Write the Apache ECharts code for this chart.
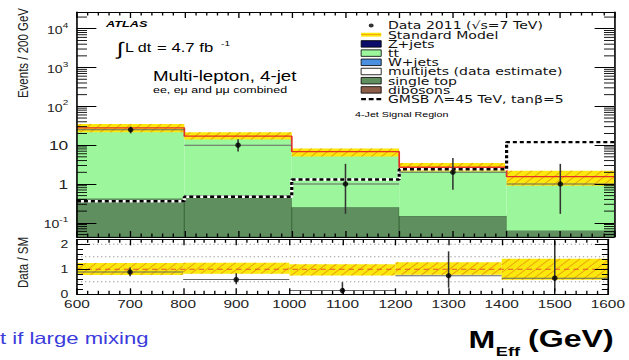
<!DOCTYPE html>
<html>
<head>
<meta charset="utf-8">
<script src="https://cdn.jsdelivr.net/npm/echarts@6/dist/echarts.min.js"></script>
<style>
  html, body { margin: 0; padding: 0; width: 629px; height: 360px; overflow: hidden; background: #fff; }
  /* the plot is laid out on a 470px-wide canvas and widened to the full 629px */
  #chart { width: 470px; height: 360px; transform: scaleX(1.33830); transform-origin: 0 0; }
</style>
</head>
<body>
<div id="chart"></div>
<script>
// ---- binning (M_Eff, GeV) ----
const binEdges   = [600, 800, 1000, 1200, 1400, 1600];
const binCenters = [700, 900, 1100, 1300, 1500];

// ---- observed events, 4-jet signal region ----
const dataCounts = [25, 10, 1, 2, 1];
const dataLow    = [20.1, 6.9, 0.17, 0.71, 0.17];   // lower end of error bar
const dataHigh   = [30.1, 14.3, 3.3, 4.64, 3.3];    // upper end of error bar

// ---- SM background stack ----
const singleTop = [0.42, 0.52, 0.25, 0.15, 0.063];
const ttbar     = [27.6, 16.5, 6.55, 2.55, 1.49];
const zJets = [], wJets = [], multijets = [], dibosons = [];
const smTotal = [28, 17, 6.8, 2.7, 1.55];
const smUp    = [35, 21.5, 8.2, 3.45, 2.2];
const smDown  = [21.6, 14, 5.1, 2.1, 0.9];

// ---- signal benchmark ----
const gmsb = [0.36, 0.47, 1.3, 2.4, 12];

// ---- axis ranges ----
const yMin = 0.043, yMax = 27000;
const ratioMin = 0, ratioMax = 2.2;
const ratioGrid = [0.5, 1.5, 2];

const FONT = '"Liberation Sans", Arial, Helvetica, sans-serif';
const LEGEND_FONT = '"DejaVu Sans", "Liberation Sans", sans-serif';
const C = {
  ttbar: '#9cf79c', stop: '#5f8f5f', stopEdge: '#3f6b3f', band: '#fbe80c', hatch: '#e8900a',
  sm: '#e5302a', zjets: '#0b0b6b', wjets: '#4b8fe0', diboson: '#8c5d48'
};

// ---- helpers building series data from the arrays ----
const stackBase = singleTop.map(() => yMin);
const stackMid  = singleTop.slice();
const stackTop  = singleTop.map((v, i) => v + ttbar[i]);
function binRects(lo, hi) {
  return lo.map((v, i) => [binEdges[i], binEdges[i + 1], v, hi[i]]);
}
function stepPoints(vals) {
  return binEdges.map((e, i) => [e, vals[Math.min(i, vals.length - 1)]]);
}
const ratio     = dataCounts.map((v, i) => v / smTotal[i]);
const ratioLow  = dataLow.map((v, i) => v / smTotal[i]);
const ratioHigh = dataHigh.map((v, i) => v / smTotal[i]);
const ratioUp   = smUp.map((v, i) => v / smTotal[i]);
const ratioDown = smDown.map((v, i) => v / smTotal[i]);

// minor log ticks 2..9 x 10^k inside the axis range
const minorLog = [];
for (let k = -2; k <= 4; k++) for (let m = 2; m <= 9; m++) {
  const v = m * Math.pow(10, k);
  if (v > yMin && v < yMax) minorLog.push([binEdges[0], v]);
}

// ---- render helpers ----
function rectItem(fill, stroke) {
  return function (params, api) {
    const a = api.coord([api.value(0), api.value(3)]);
    const b = api.coord([api.value(1), api.value(2)]);
    return {
      type: 'rect',
      shape: { x: a[0], y: a[1], width: b[0] - a[0], height: b[1] - a[1] },
      style: { fill: fill, stroke: stroke || null, lineWidth: stroke ? 0.8 : 0 }
    };
  };
}
function hatchedBand(params, api) {
  const a = api.coord([api.value(0), api.value(3)]);
  const b = api.coord([api.value(1), api.value(2)]);
  const x0 = a[0], x1 = b[0], yT = a[1], yB = b[1], H = yB - yT;
  const children = [{ type: 'rect', shape: { x: x0, y: yT, width: x1 - x0, height: H }, style: { fill: C.band } }];
  const step = 7.5;
  for (let c = Math.floor((x0 - H) / step) * step; c < x1; c += step) {
    const t0 = Math.max(0, (x0 - c) / H), t1 = Math.min(1, (x1 - c) / H);
    if (t1 <= t0) continue;
    children.push({
      type: 'line',
      shape: { x1: c + t0 * H, y1: yB - t0 * H, x2: c + t1 * H, y2: yB - t1 * H },
      style: { stroke: C.hatch, lineWidth: 0.8, opacity: 0.85 }
    });
  }
  return { type: 'group', children: children };
}
function errorBars(params, api) {
  const l = api.coord([api.value(1), api.value(3)]);
  const r = api.coord([api.value(2), api.value(3)]);
  const lo = api.coord([api.value(0), api.value(4)]);
  const hi = api.coord([api.value(0), api.value(5)]);
  return {
    type: 'group', children: [
      { type: 'line', shape: { x1: l[0], y1: l[1], x2: r[0], y2: r[1] }, style: { stroke: '#666', lineWidth: 1 } },
      { type: 'line', shape: { x1: lo[0], y1: lo[1], x2: hi[0], y2: hi[1] }, style: { stroke: '#333', lineWidth: 1.15 } }
    ]
  };
}
function logMinorTicks(params, api) {
  const l = api.coord([binEdges[0], api.value(1)]);
  const r = api.coord([binEdges[binEdges.length - 1], api.value(1)]);
  return {
    type: 'group', children: [
      { type: 'line', shape: { x1: l[0], y1: l[1], x2: l[0] + 7.5, y2: l[1] }, style: { stroke: '#000', lineWidth: 0.9 } },
      { type: 'line', shape: { x1: r[0], y1: r[1], x2: r[0] - 7.5, y2: r[1] }, style: { stroke: '#000', lineWidth: 0.9 } }
    ]
  };
}
function refLine(params, api) {
  const l = api.coord([binEdges[0], api.value(0)]);
  const r = api.coord([binEdges[binEdges.length - 1], api.value(0)]);
  const unity = api.value(1) === 1;
  return {
    type: 'line',
    shape: { x1: l[0], y1: l[1], x2: r[0], y2: r[1] },
    style: unity ? { stroke: '#e4572a', lineWidth: 1, lineDash: [4, 3] }
                 : { stroke: '#9a9a9a', lineWidth: 1, lineDash: [1, 2] }
  };
}

// ---- axes ----
function xAx(grid, pos, labels) {
  return {
    type: 'value', gridIndex: grid, position: pos, min: binEdges[0], max: binEdges[binEdges.length - 1], interval: 100,
    z: 10, splitLine: { show: false },
    axisLine: { show: true, onZero: false, lineStyle: { color: '#000', width: 1.2 } },
    axisTick: { show: true, inside: true, length: 6, lineStyle: { color: '#000', width: 1 } },
    minorTick: { show: true, splitNumber: 5, length: 3.5, lineStyle: { color: '#000', width: 1 } },
    axisLabel: labels ? { show: true, fontSize: 11.5, fontFamily: FONT, color: '#222', margin: 4,
                          formatter: v => String(v) } : { show: false }
  };
}
function logLabel(v) {
  const e = Math.log10(v), r = Math.round(e);
  if (Math.abs(e - r) > 1e-6) return '';
  if (r === 0) return '{p|1}';
  if (r === 1) return '{p|10}';
  return '{b|10}{s|' + r + '}';
}
function yLog(pos, labels) {
  return {
    type: 'log', logBase: 10, gridIndex: 0, position: pos, min: yMin, max: yMax, z: 10,
    splitLine: { show: false },
    axisLine: { show: true, onZero: false, lineStyle: { color: '#000', width: 1.2 } },
    axisTick: { show: true, inside: true, length: 14.5, lineStyle: { color: '#000', width: 1 } },
    axisLabel: labels ? {
      show: true, formatter: logLabel, margin: 6.5, fontFamily: FONT, color: '#222',
      rich: {
        p: { fontSize: 13, fontFamily: FONT, color: '#222' },
        b: { fontSize: 10.5, fontFamily: FONT, color: '#222', padding: [4, 0, 0, 0] },
        s: { fontSize: 7.5, fontFamily: FONT, color: '#222', verticalAlign: 'top', lineHeight: 8 }
      }
    } : { show: false }
  };
}
function yRatio(pos, labels) {
  return {
    type: 'value', gridIndex: 1, position: pos, min: ratioMin, max: ratioMax, interval: 1, z: 10,
    splitLine: { show: false },
    axisLine: { show: true, onZero: false, lineStyle: { color: '#000', width: 1.2 } },
    axisTick: { show: true, inside: true, length: 9.7, lineStyle: { color: '#000', width: 1 } },
    minorTick: { show: true, splitNumber: 5, length: 4.5, lineStyle: { color: '#000', width: 1 } },
    axisLabel: labels ? {
      show: true, margin: 6.5, fontSize: 10.5, fontFamily: FONT, color: '#222',
      formatter: v => (Math.abs(v - Math.round(v)) < 1e-9 ? String(Math.round(v)) : '')
    } : { show: false }
  };
}

const dotIcon  = 'path://M0,0M15,6.5M5.6,3.25a1.9,1.9 0 1,0 3.8,0a1.9,1.9 0 1,0 -3.8,0z';
const dashIcon = 'path://M0,0M15,6.5M0,2.2h3.6v2.1h-3.6zM5.7,2.2h3.6v2.1h-3.6zM11.4,2.2h3.6v2.1h-3.6z';
const bandIcon = 'path://M0,0M15,6.5M0,1.3h15v3.9h-15z';
const boxStyle = fill => ({ color: fill, borderColor: '#000', borderWidth: 0.7 });
const txt = (x, y, text, font, extra) => ({
  type: 'text', x: x, y: y, z: 30,
  style: Object.assign({ text: text, font: font + ' ' + FONT, fill: '#000',
                         verticalAlign: 'middle', textVerticalAlign: 'middle' }, extra || {})
});

const option = {
  animation: false,
  textStyle: { fontFamily: FONT },
  grid: [
    { left: 57.5, right: 11.2, top: 12, height: 225 },
    { left: 57.5, right: 11.2, top: 239.3, height: 55 }
  ],
  xAxis: [xAx(0, 'bottom', false), xAx(0, 'top', false), xAx(1, 'bottom', true), xAx(1, 'top', false)],
  yAxis: [yLog('left', true), yLog('right', false), yRatio('left', true), yRatio('right', false)],
  legend: {
    orient: 'vertical', left: 269.5, top: 20, padding: 0, itemGap: -1.8, itemWidth: 15, itemHeight: 6.5,
    selectedMode: false, z: 20,
    textStyle: { fontSize: 10.5, fontFamily: LEGEND_FONT, color: '#111' },
    data: [
      { name: 'Data 2011 (√s=7 TeV)', icon: dotIcon, itemStyle: { color: '#000', borderWidth: 0 } },
      { name: 'Standard Model', icon: bandIcon, itemStyle: { borderWidth: 0, color: {
          type: 'linear', x: 0, y: 0, x2: 0, y2: 1,
          colorStops: [{ offset: 0, color: C.band }, { offset: 0.4, color: C.band }, { offset: 0.5, color: '#e8660a' },
                       { offset: 0.6, color: C.band }, { offset: 1, color: C.band }] } } },
      { name: 'Z+jets', icon: 'rect', itemStyle: boxStyle(C.zjets) },
      { name: 'tt̄', icon: 'rect', itemStyle: boxStyle(C.ttbar) },
      { name: 'W+jets', icon: 'rect', itemStyle: boxStyle(C.wjets) },
      { name: 'multijets (data estimate)', icon: 'rect', itemStyle: boxStyle('#fff') },
      { name: 'single top', icon: 'rect', itemStyle: boxStyle(C.stop) },
      { name: 'dibosons', icon: 'rect', itemStyle: boxStyle(C.diboson) },
      { name: 'GMSB Λ=45 TeV, tanβ=5', icon: dashIcon, itemStyle: { color: '#000', borderWidth: 0 } }
    ]
  },
  series: [
    // ---------- main panel ----------
    { type: 'custom', name: 'dibosons', xAxisIndex: 0, yAxisIndex: 0, z: 2, data: dibosons, renderItem: rectItem(C.diboson) },
    { type: 'custom', name: 'single top', xAxisIndex: 0, yAxisIndex: 0, z: 2,
      encode: { x: [0, 1], y: [2, 3] }, data: binRects(stackBase, stackMid), renderItem: rectItem(C.stop, C.stopEdge) },
    { type: 'custom', name: 'tt̄', xAxisIndex: 0, yAxisIndex: 0, z: 2,
      encode: { x: [0, 1], y: [2, 3] }, data: binRects(stackMid, stackTop), renderItem: rectItem(C.ttbar) },
    { type: 'custom', name: 'Z+jets', xAxisIndex: 0, yAxisIndex: 0, z: 2, data: zJets, renderItem: rectItem(C.zjets) },
    { type: 'custom', name: 'W+jets', xAxisIndex: 0, yAxisIndex: 0, z: 2, data: wJets, renderItem: rectItem(C.wjets) },
    { type: 'custom', name: 'multijets (data estimate)', xAxisIndex: 0, yAxisIndex: 0, z: 2, data: multijets, renderItem: rectItem('#fff') },
    { type: 'custom', name: 'SM uncertainty', xAxisIndex: 0, yAxisIndex: 0, z: 3,
      encode: { x: [0, 1], y: [2, 3] }, data: binRects(smDown, smUp), renderItem: hatchedBand },
    { type: 'line', name: 'Standard Model', xAxisIndex: 0, yAxisIndex: 0, z: 4, step: 'end', symbol: 'none',
      lineStyle: { color: C.sm, width: 1.3 }, data: stepPoints(smTotal) },
    { type: 'line', name: 'GMSB backing', xAxisIndex: 0, yAxisIndex: 0, z: 5, step: 'end', symbol: 'none',
      lineStyle: { color: '#fff', width: 2.4 }, data: stepPoints(gmsb) },
    { type: 'line', name: 'GMSB Λ=45 TeV, tanβ=5', xAxisIndex: 0, yAxisIndex: 0, z: 6, step: 'end', symbol: 'none',
      lineStyle: { color: '#000', width: 2.4, type: [3, 2.2] }, data: stepPoints(gmsb) },
    { type: 'custom', name: 'data errors', xAxisIndex: 0, yAxisIndex: 0, z: 7,
      encode: { x: 0, y: 3 },
      data: binCenters.map((x, i) => [x, binEdges[i], binEdges[i + 1], dataCounts[i], dataLow[i], dataHigh[i]]),
      renderItem: errorBars },
    { type: 'scatter', name: 'Data 2011 (√s=7 TeV)', xAxisIndex: 0, yAxisIndex: 0, z: 8,
      symbol: 'circle', symbolSize: [4.2, 5.4], itemStyle: { color: '#000' },
      data: binCenters.map((x, i) => [x, dataCounts[i]]) },
    { type: 'custom', name: 'log minor ticks', xAxisIndex: 0, yAxisIndex: 0, z: 9, silent: true,
      encode: { x: 0, y: 1 }, data: minorLog, renderItem: logMinorTicks },

    // ---------- ratio panel ----------
    { type: 'custom', name: 'ratio band', xAxisIndex: 2, yAxisIndex: 2, z: 3,
      encode: { x: [0, 1], y: [2, 3] }, data: binRects(ratioDown, ratioUp), renderItem: hatchedBand },
    { type: 'custom', name: 'ratio reference', xAxisIndex: 2, yAxisIndex: 2, z: 4, silent: true,
      encode: { y: 0 }, data: ratioGrid.map(v => [v, 0]).concat([[1, 1]]), renderItem: refLine },
    { type: 'custom', name: 'ratio errors', xAxisIndex: 2, yAxisIndex: 2, z: 7,
      encode: { x: 0, y: 3 },
      data: binCenters.map((x, i) => [x, binEdges[i], binEdges[i + 1], ratio[i], ratioLow[i], ratioHigh[i]]),
      renderItem: errorBars },
    { type: 'scatter', name: 'ratio points', xAxisIndex: 2, yAxisIndex: 2, z: 8,
      symbol: 'circle', symbolSize: [4.2, 5.4], itemStyle: { color: '#000' },
      data: binCenters.map((x, i) => [x, ratio[i]]) }
  ],
  graphic: [
    { type: 'text', x: 17.2, y: 53, rotation: Math.PI / 2, z: 30,
      style: { text: 'Events / 200 GeV', font: '11.5px ' + FONT, fill: '#222',
               align: 'center', verticalAlign: 'middle', textAlign: 'center', textVerticalAlign: 'middle' } },
    { type: 'text', x: 17.2, y: 262.5, rotation: Math.PI / 2, z: 30,
      style: { text: 'Data / SM', font: '11.5px ' + FONT, fill: '#222',
               align: 'center', verticalAlign: 'middle', textAlign: 'center', textVerticalAlign: 'middle' } },
    txt(79.2, 23.5, 'ATLAS', 'italic bold 9.5px'),
    txt(87.5, 49.5, '∫', '18px'),
    txt(93.4, 48, 'L dt', '12px'),
    txt(117.3, 48, '= 4.7 fb', '12.5px'),
    txt(165.2, 43.5, '-1', '7.5px'),
    txt(114.3, 76.5, 'Multi-lepton, 4-jet', '14px'),
    txt(114.3, 89.5, 'ee, eμ and μμ combined', '9.3px'),
    txt(265.3, 114, '4-Jet Signal Region', '8px'),
    txt(0, 338, 't if large mixing', '16.5px', { fill: '#3b3bdc' }),
    txt(350, 340, 'M', 'bold 24px'),
    txt(370.5, 351.5, 'Eff', 'bold 13.5px'),
    txt(458.5, 339, '(GeV)', 'bold 24px', { align: 'right', textAlign: 'right' })
  ]
};

const chart = echarts.init(document.getElementById('chart'), null, { renderer: 'svg', width: 470, height: 360 });
chart.setOption(option);
</script>
</body>
</html>
